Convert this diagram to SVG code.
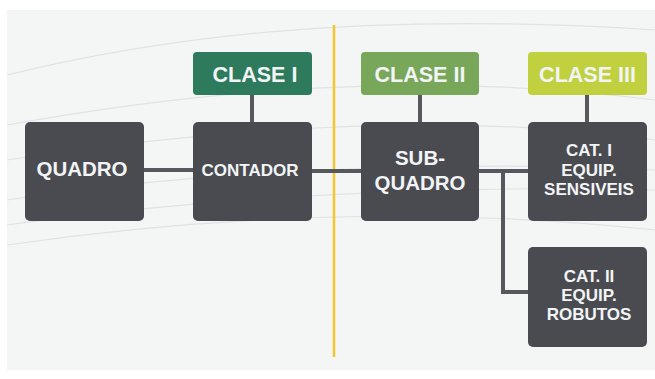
<svg xmlns="http://www.w3.org/2000/svg" width="655" height="379" viewBox="0 0 655 379">
<style>
.node{fill:#4a4b50}
.t{fill:#f2f4f6;font-family:"Liberation Sans",Arial,sans-serif;font-weight:bold;text-anchor:middle}
.c{stroke:#55585d;stroke-width:4;fill:none}
.bg{stroke:#dfe3e6;stroke-width:1.2;fill:none}
</style>
<rect x="0" y="0" width="655" height="379" fill="#ffffff"/>
<rect x="7" y="10" width="648" height="360" fill="#f4f5f5"/>
<g id="background">
<path class="bg" d="M7 75 C150 40 350 10 655 30"/>
<path class="bg" d="M7 125 C200 90 420 70 655 100"/>
<path class="bg" d="M7 160 C200 130 450 110 655 140"/>
<path class="bg" d="M7 200 C200 170 450 160 655 170"/>
<path class="bg" d="M7 225 C220 195 460 185 655 190"/>
<path class="bg" d="M7 245 C250 210 470 210 655 230"/>
</g>
<line x1="334" y1="25" x2="334" y2="357" stroke="#f2c82f" stroke-width="2.5"/>
<g id="connectors">
<line class="c" x1="144" y1="170" x2="193" y2="170"/>
<line class="c" x1="312" y1="171" x2="361" y2="171"/>
<line class="c" x1="479" y1="171" x2="528" y2="171"/>
<polyline class="c" points="503,171 503,292 528,292"/>
<line class="c" x1="252" y1="95" x2="252" y2="122"/>
<line class="c" x1="420" y1="95" x2="420" y2="122"/>
<line class="c" x1="587" y1="95" x2="587" y2="122"/>
</g>
<g id="clase1">
<rect x="193" y="52" width="119" height="43" rx="4" fill="#2e7a5c"/>
<text class="t" x="255" y="82" font-size="21.5">CLASE I</text>
</g>
<g id="clase2">
<rect x="361" y="52" width="118" height="43" rx="4" fill="#78a75a"/>
<text class="t" x="420" y="82" font-size="21.5">CLASE II</text>
</g>
<g id="clase3">
<rect x="528" y="52" width="119" height="43" rx="4" fill="#c0d03e"/>
<text class="t" x="587.5" y="82" font-size="21.5">CLASE III</text>
</g>
<g id="quadro">
<rect class="node" x="25" y="122" width="119" height="99" rx="5"/>
<text class="t" x="82" y="176" font-size="20.5">QUADRO</text>
</g>
<g id="contador">
<rect class="node" x="193" y="122" width="119" height="99" rx="5"/>
<text class="t" x="250" y="176" font-size="17">CONTADOR</text>
</g>
<g id="subquadro">
<rect class="node" x="361" y="122" width="118" height="99" rx="5"/>
<text class="t" x="420" y="165" font-size="20.5">SUB-</text>
<text class="t" x="420" y="190" font-size="20.5">QUADRO</text>
</g>
<g id="cat1">
<rect class="node" x="528" y="122" width="119" height="99" rx="5"/>
<text class="t" x="589" y="156" font-size="17">CAT. I</text>
<text class="t" x="589" y="176" font-size="17">EQUIP.</text>
<text class="t" x="589" y="195" font-size="17">SENSIVEIS</text>
</g>
<g id="cat2">
<rect class="node" x="528" y="247" width="119" height="100" rx="5"/>
<text class="t" x="589" y="282" font-size="17">CAT. II</text>
<text class="t" x="589" y="301" font-size="17">EQUIP.</text>
<text class="t" x="589" y="320" font-size="17">ROBUTOS</text>
</g>
</svg>
